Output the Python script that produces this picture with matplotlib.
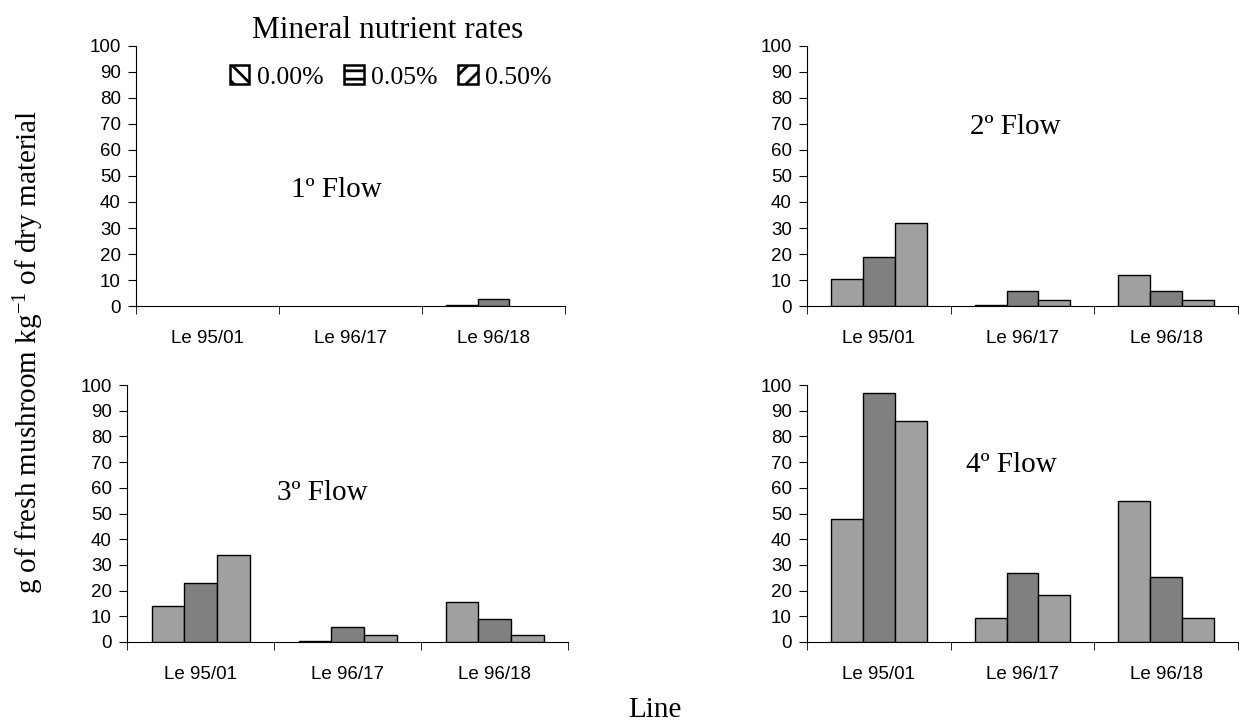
import matplotlib
matplotlib.use('Agg')
import matplotlib.pyplot as plt
import matplotlib.patches as mpatches
import numpy as np

plt.rcParams['mathtext.fontset'] = 'custom'
plt.rcParams['mathtext.rm'] = 'Liberation Serif'
plt.rcParams['mathtext.it'] = 'Liberation Serif:italic'
plt.rcParams['hatch.linewidth'] = 2.0

lines = ['Le 95/01', 'Le 96/17', 'Le 96/18']
rates = ['0.00%', '0.05%', '0.50%']
flows = ['1º Flow', '2º Flow', '3º Flow', '4º Flow']

# valeurs par flux : une liste par taux (0.00%, 0.05%, 0.50%)
flow1 = [[0.0, 0.0, 0.5], [0.0, 0.0, 2.6], [0.0, 0.0, 0.0]]
flow2 = [[10.3, 0.5, 11.8], [18.8, 5.8, 5.8], [32.0, 2.5, 2.5]]
flow3 = [[14.2, 0.5, 15.7], [23.0, 5.8, 9.1], [34.0, 2.7, 2.7]]
flow4 = [[48.0, 9.5, 55.0], [97.0, 26.7, 25.2], [86.0, 18.2, 9.5]]
all_flows = [flow1, flow2, flow3, flow4]

bar_colors = ['#A0A0A0', '#808080', '#A0A0A0']
legend_hatch = ['\\\\', '--', '//']

fig = plt.figure(figsize=(12.48, 7.23), dpi=100)
W, H = 1248, 723
# positions des axes en pixels : gauche, droite, haut, bas
boxes = [(136, 565, 46, 306), (807, 1238, 46, 306),
         (127, 568, 385, 642), (807, 1238, 385, 642)]
label_pos = [(1.40, 44.5), (1.45, 69), (1.33, 58), (1.42, 69)]

w = 1 / 4.5
x = np.arange(len(lines)) + 0.5
for k, (l, r, t, b) in enumerate(boxes):
    ax = fig.add_axes([l / W, 1 - b / H, (r - l) / W, (b - t) / H])
    data = all_flows[k]
    for i in range(3):
        vals = np.array(data[i])
        # pas de contour pour les barres nulles
        lw = [1.0 if v > 0 else 0 for v in vals]
        ax.bar(x + (i - 1) * w, vals, width=w, color=bar_colors[i],
               edgecolor='black', linewidth=lw, zorder=3)
    ax.set_xlim(0, 3)
    ax.set_ylim(0, 100)
    ax.set_yticks(range(0, 101, 10))
    ax.set_xticks(x)
    ax.set_xticklabels(lines, fontsize=13.5, family='Liberation Sans')
    ax.set_xticks([0, 1, 2, 3], minor=True)
    ax.tick_params(axis='x', which='major', length=0, pad=17)
    ax.tick_params(axis='x', which='minor', length=6, direction='out')
    ax.tick_params(axis='y', length=6, direction='out', pad=5)
    for lab in ax.get_yticklabels():
        lab.set_family('Liberation Sans')
        lab.set_fontsize(13.5)
    for s in ['top', 'right']:
        ax.spines[s].set_visible(False)
    ax.spines['left'].set_linewidth(0.8)
    ax.spines['bottom'].set_linewidth(0.8)
    ax.patch.set_alpha(0)
    ax.text(label_pos[k][0], label_pos[k][1], flows[k], ha='center', va='center',
            fontsize=21, family='Liberation Serif')

fig.text(388 / W, 1 - 31 / H, 'Mineral nutrient rates', ha='center', va='center',
         fontsize=22.5, family='Liberation Serif')
handles = [mpatches.Patch(facecolor='white', edgecolor='black', linewidth=1.8,
                          hatch=legend_hatch[i], label=rates[i]) for i in range(3)]
fig.legend(handles=handles, loc='center', bbox_to_anchor=(391 / W, 1 - 77 / H),
           ncol=3, frameon=False, handlelength=0.75, handleheight=0.75,
           handletextpad=0.3, columnspacing=0.8,
           prop={'family': 'Liberation Serif', 'size': 18.5})

fig.text(29 / W, 1 - 352 / H, r'g of fresh mushroom kg$^{-1}$ of dry material',
         rotation=90, ha='center', va='center', fontsize=21, family='Liberation Serif')
fig.text(655 / W, 1 - 710 / H, 'Line', ha='center', va='center',
         fontsize=21, family='Liberation Serif')

plt.savefig('out.png', dpi=100)
